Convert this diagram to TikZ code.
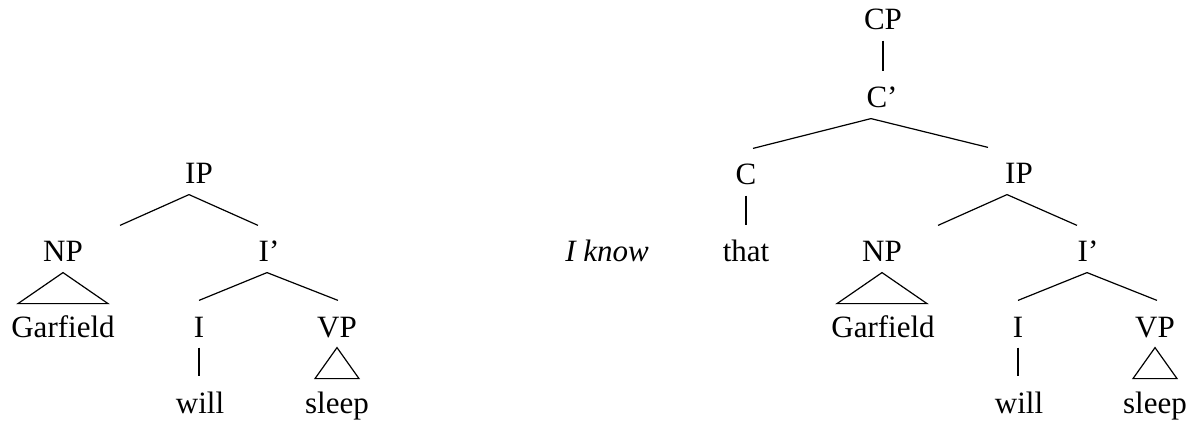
\documentclass[tikz,border=0pt]{standalone}
\usepackage{fontspec}
\setmainfont{Liberation Serif}
\usepackage{tikz}
\usetikzlibrary{positioning}

\begin{document}
\begin{tikzpicture}[x=0.5pt,y=-0.5pt,line width=0.6pt,
  font=\fontsize{15.5}{18}\selectfont,
  cat/.style={inner sep=0pt,text height=18pt,text depth=5pt,anchor=base}]
\useasboundingbox (0,0) rectangle (1199,427);

% simple clause
\node[cat] (IP1) at (199,184) {IP};
\node[cat] (NP1) at (63,262) {NP};
\node[cat] (Ibar1) at (269,262) {I’};
\node[cat] (G1) at (63,337) {Garfield};
\node[cat] (I1) at (199,337) {I};
\node[cat] (VP1) at (337,337) {VP};
\node[cat] (will1) at (200,413) {will};
\node[cat] (sleep1) at (337,413) {sleep};

\draw ([xshift=-5pt]IP1.south) -- ([xshift=28.5pt]NP1.north);
\draw ([xshift=-5pt]IP1.south) -- ([xshift=-5.5pt]Ibar1.north);
\draw (NP1.south) -- ++(-22.5pt,-15.5pt) -- ++(45pt,0) -- cycle;
\draw ([xshift=-1pt]Ibar1.south) -- (I1.north);
\draw ([xshift=-1pt]Ibar1.south) -- ([xshift=0.5pt]VP1.north);
\draw (I1.south) -- (I1.south |- will1.north);
\draw (VP1.south) -- ++(-11pt,-15.5pt) -- ++(22pt,0) -- cycle;

% embedded clause
\node[cat] (CP) at (883,30) {CP};
\node[cat] (Cbar) at (882,108) {C’};
\node[cat] (C) at (746,185) {C};
\node[cat] (IP2) at (1019,184) {IP};
\node[cat] (know) at (607,262) {\itshape I know};
\node[cat] (that) at (746,262) {that};
\node[cat] (NP2) at (882,262) {NP};
\node[cat] (Ibar2) at (1088,262) {I’};
\node[cat] (G2) at (883,337) {Garfield};
\node[cat] (I2) at (1018,337) {I};
\node[cat] (VP2) at (1155,337) {VP};
\node[cat] (will2) at (1019,413) {will};
\node[cat] (sleep2) at (1155,413) {sleep};

\draw (CP.south) -- (CP.south |- Cbar.north);
\draw ([xshift=-5.5pt]Cbar.south) -- ([xshift=3.5pt]C.north);
\draw ([xshift=-5.5pt]Cbar.south) -- ([xshift=-15.5pt]IP2.north);
\draw (C.south) -- (that.north);
\draw ([xshift=-6pt]IP2.south) -- ([xshift=28pt]NP2.north);
\draw ([xshift=-6pt]IP2.south) -- ([xshift=-5.5pt]Ibar2.north);
\draw (NP2.south) -- ++(-22.5pt,-15.5pt) -- ++(45pt,0) -- cycle;
\draw ([xshift=-0.5pt]Ibar2.south) -- (I2.north);
\draw ([xshift=-0.5pt]Ibar2.south) -- ([xshift=1pt]VP2.north);
\draw (I2.south) -- (I2.south |- will2.north);
\draw (VP2.south) -- ++(-11pt,-15.5pt) -- ++(22pt,0) -- cycle;
\end{tikzpicture}
\end{document}
